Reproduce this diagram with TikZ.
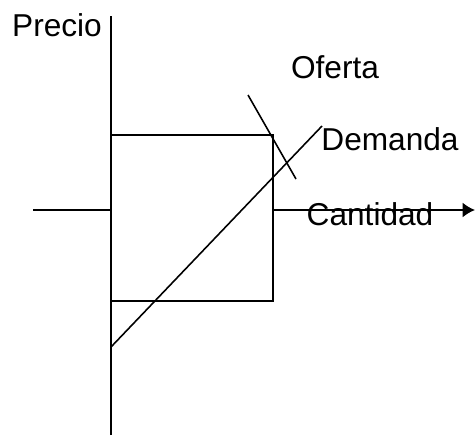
\documentclass[tikz,border=0pt]{standalone}
\usepackage{fontspec}
\setmainfont{Liberation Sans}
\usetikzlibrary{arrows.meta}
\begin{document}
\begin{tikzpicture}[x=0.02cm, y=-0.02cm, line width=1.2pt, every node/.style={inner sep=0pt, font=\fontsize{18}{20}\selectfont}]
		\useasboundingbox (0,0) rectangle (475,435);
		
		% Ejes
		\coordinate (Q0) at (33,210);
		\coordinate (Q1) at (475,210);
		\draw[-{Latex[length=7pt, width=8.5pt]}] (Q0) -- (Q1);
		
		% Caja (tapa el eje horizontal)
		\coordinate (C0) at (111,135);
		\coordinate (C1) at (273,301);
		\draw[line width=0.9pt, fill=white] (C0) rectangle (C1);
		
		\coordinate (P0) at (111,435);
		\coordinate (P1) at (111,16);
		\draw (P0) -- (P1);
		
		% Oferta: pendiente negativa
		\coordinate (O0) at (248,95);
		\coordinate (O1) at (296,179);
		\draw[line width=0.9pt] (O0) -- (O1);
		
		% Demanda: pendiente positiva
		\coordinate (D0) at (111,347);
		\coordinate (D1) at (322,126);
		\draw[line width=0.9pt] (D0) -- (D1);
		
		\node (precio) at (57,25) {Precio};
		\node (oferta) at (335,67) {Oferta};
		\node (demanda) at (390,139) {Demanda};
		\node (cantidad) at (370,214) {Cantidad};
		
	\end{tikzpicture}
\end{document}
